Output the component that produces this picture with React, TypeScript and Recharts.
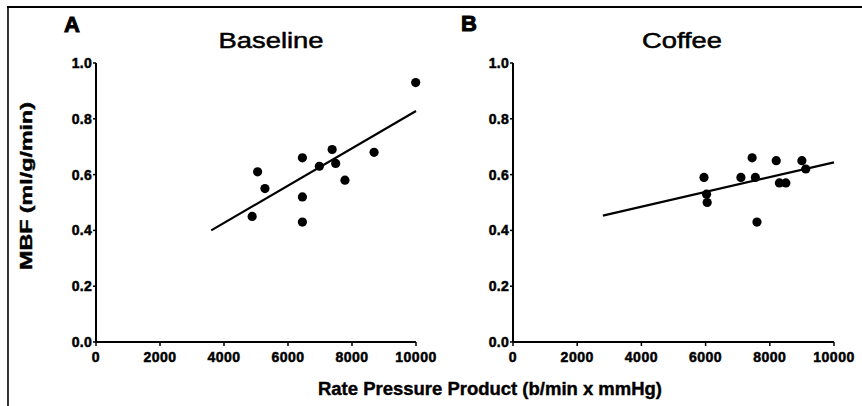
import React from "react";
import { ScatterChart, Scatter, XAxis, YAxis, ReferenceLine } from "recharts";

// ---- data ----
const baselineRpp = [4880, 5050, 5280, 6450, 6450, 6450, 6980, 7380, 7490, 7780, 8690, 9990];
const baselineMbf = [0.45, 0.61, 0.55, 0.66, 0.52, 0.43, 0.63, 0.69, 0.64, 0.58, 0.68, 0.93];
const coffeeRpp = [5950, 6030, 6050, 7100, 7450, 7550, 7600, 8200, 8300, 8500, 9000, 9120];
const coffeeMbf = [0.59, 0.53, 0.5, 0.59, 0.66, 0.59, 0.43, 0.65, 0.57, 0.57, 0.65, 0.62];
const baselineFitX = [3600, 10000];
const baselineFitY = [0.4, 0.828];
const coffeeFitX = [2800, 10000];
const coffeeFitY = [0.453, 0.644];
const xTicks = [0, 2000, 4000, 6000, 8000, 10000];
const yTicks = [0, 0.2, 0.4, 0.6, 0.8, 1.0];
const panelLetters = ["A", "B"];
const panelTitles = ["Baseline", "Coffee"];
const xLabel = "Rate Pressure Product (b/min x mmHg)";
const yLabel = "MBF (ml/g/min)";

const FONT = "'Liberation Sans', Arial, Helvetica, sans-serif";

const toPoints = (xs: number[], ys: number[]) => xs.map((x, i) => ({ x, y: ys[i] }));

const Dot = (p: any) => <circle cx={p.cx} cy={p.cy} r={4.6} fill="#000" />;

const XTick = (p: any) => (
  <text
    x={p.x}
    y={p.y}
    dy="0.71em"
    textAnchor="middle"
    fill="#000"
    stroke="#000"
    strokeWidth={0.5}
    fontSize={14}
    fontWeight={700}
    fontFamily={FONT}
    letterSpacing={0.5}
  >
    {String(p.payload.value)}
  </text>
);

const YTick = (p: any) => (
  <text
    x={p.x}
    y={p.y}
    dy="0.355em"
    textAnchor="end"
    fill="#000"
    stroke="#000"
    strokeWidth={0.5}
    fontSize={14}
    fontWeight={700}
    fontFamily={FONT}
    letterSpacing={0.3}
  >
    {Number(p.payload.value).toFixed(1)}
  </text>
);

function Panel(props: {
  left: number;
  width: number;
  margin: { top: number; right: number; bottom: number; left: number };
  xs: number[];
  ys: number[];
  fx: number[];
  fy: number[];
}) {
  const data = toPoints(props.xs, props.ys);
  const seg = toPoints(props.fx, props.fy);
  return (
    <div style={{ position: "absolute", left: props.left, top: 0 }}>
      <ScatterChart width={props.width} height={406} margin={props.margin}>
        <XAxis
          type="number"
          dataKey="x"
          domain={[0, 10000]}
          ticks={xTicks}
          interval={0}
          height={30}
          axisLine={{ stroke: "#000", strokeWidth: 2 }}
          tickLine={{ stroke: "#000", strokeWidth: 1.5 }}
          tickSize={4}
          tickMargin={6}
          tick={XTick}
        />
        <YAxis
          type="number"
          dataKey="y"
          domain={[0, 1]}
          ticks={yTicks}
          interval={0}
          width={40}
          axisLine={{ stroke: "#000", strokeWidth: 2 }}
          tickLine={{ stroke: "#000", strokeWidth: 1.5 }}
          tickSize={3}
          tickMargin={1}
          tick={YTick}
        />
        <ReferenceLine segment={seg} stroke="#000" strokeWidth={2.2} ifOverflow="visible" />
        <Scatter data={data} fill="#000" shape={Dot} isAnimationActive={false} />
      </ScatterChart>
    </div>
  );
}

export default function App() {
  return (
    <div
      style={{
        position: "absolute",
        left: 0,
        top: 0,
        width: 862,
        height: 406,
        background: "#fff",
        overflow: "hidden",
      }}
    >
      <Panel
        left={0}
        width={450}
        margin={{ top: 63, right: 34, bottom: 34, left: 56 }}
        xs={baselineRpp}
        ys={baselineMbf}
        fx={baselineFitX}
        fy={baselineFitY}
      />
      <Panel
        left={430}
        width={432}
        margin={{ top: 63, right: 28, bottom: 34, left: 43 }}
        xs={coffeeRpp}
        ys={coffeeMbf}
        fx={coffeeFitX}
        fy={coffeeFitY}
      />
      <svg
        width={862}
        height={406}
        style={{ position: "absolute", left: 0, top: 0, pointerEvents: "none" }}
      >
        <line x1={7} y1={7} x2={862} y2={7} stroke="#000" strokeWidth={2} />
        <line x1={8} y1={6} x2={8} y2={406} stroke="#000" strokeWidth={1.6} />
        <text x={72} y={32} textAnchor="middle" fontFamily={FONT} fontWeight={700} fontSize={22} fill="#000" stroke="#000" strokeWidth={1}>
          {panelLetters[0]}
        </text>
        <text x={469} y={31} textAnchor="middle" fontFamily={FONT} fontWeight={700} fontSize={22} fill="#000" stroke="#000" strokeWidth={1}>
          {panelLetters[1]}
        </text>
        <text x={271} y={48} textAnchor="middle" fontFamily={FONT} fontSize={22} fill="#000" stroke="#000" strokeWidth={0.5} textLength={105} lengthAdjust="spacingAndGlyphs">
          {panelTitles[0]}
        </text>
        <text x={682} y={48} textAnchor="middle" fontFamily={FONT} fontSize={22} fill="#000" stroke="#000" strokeWidth={0.5} textLength={80} lengthAdjust="spacingAndGlyphs">
          {panelTitles[1]}
        </text>
        <text x={490} y={395} textAnchor="middle" fontFamily={FONT} fontWeight={700} fontSize={18} fill="#000" stroke="#000" strokeWidth={0.4} textLength={344} lengthAdjust="spacingAndGlyphs">
          {xLabel}
        </text>
        <text
          x={0}
          y={0}
          transform="translate(32,186) rotate(-90)"
          textAnchor="middle"
          fontFamily={FONT}
          fontWeight={700}
          fontSize={16}
          fill="#000"
          stroke="#000"
          strokeWidth={0.4}
          textLength={168}
          lengthAdjust="spacingAndGlyphs"
        >
          {yLabel}
        </text>
      </svg>
    </div>
  );
}
